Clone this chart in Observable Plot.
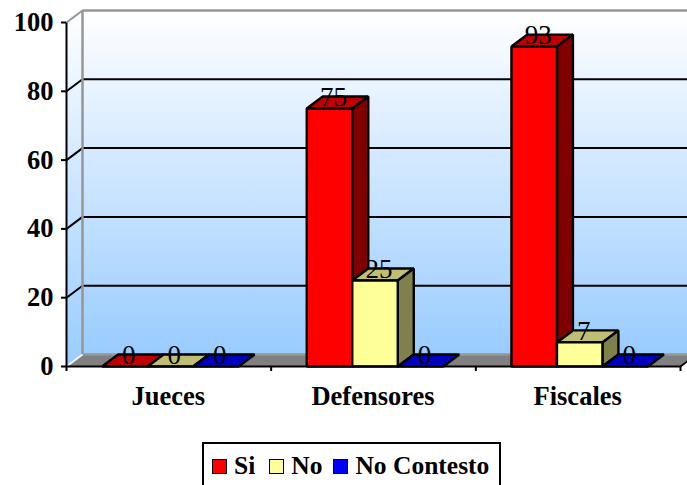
<!DOCTYPE html>
<html>
<head>
<meta charset="utf-8">
<script src="https://cdn.jsdelivr.net/npm/d3@7"></script>
<script src="https://cdn.jsdelivr.net/npm/@observablehq/plot@0.6"></script>
<style>
  html, body { margin: 0; padding: 0; background: #fff; overflow: hidden; }
  #page { position: relative; width: 687px; height: 485px; overflow: hidden; font-family: "Liberation Serif", serif; }
  #page > svg { position: absolute; left: 0; top: 0; }
  #legend { position: absolute; left: 202px; top: 442px; width: 295px; height: 50px; border: 2px solid #000; background: #fff;
            display: flex; align-items: flex-start; padding-top: 8px; font-weight: bold; font-size: 25.5px; color: #000; }
  #legend span.item { display: flex; align-items: center; height: 28px; white-space: nowrap; }
  #legend i { display: inline-block; width: 13px; height: 13px; border: 1.5px solid #000; margin: 0 7px 0 0; }
</style>
</head>
<body>
<div id="page"></div>
<script>
// Survey answers per group of respondents
const groups = ["Jueces", "Defensores", "Fiscales"];
const seriesNames = ["Si", "No", "No Contesto"];
const si = [0, 75, 93];
const no = [0, 25, 7];
const noContesto = [0, 0, 0];
const frontColors = ["#ff0000", "#ffff99", "#0000ff"];
const topColors = ["#bf0000", "#bfbf73", "#0000bf"];
const sideColors = ["#800000", "#80804d", "#000080"];
const yTicks = [0, 20, 40, 60, 80, 100];

// Oblique projection: the back of the chart box sits up and to the right of the front,
// expressed in data units of the two scales.
const depthX = 16 / 204.67;
const depthY = 12 / 3.44;
const xMax = 3;
const barWidth = 45.5 / 204.67;
const barStart = 35.6 / 204.67;
const values = [si, no, noContesto];

const polys = [];
const addPoly = (id, fill, pts) => pts.forEach(([x, y]) => polys.push({id, fill, x, y}));
const box = (x0, x1, v, prefix, s) => {
  addPoly(prefix + "top", topColors[s], [[x0, v], [x1, v], [x1 + depthX, v + depthY], [x0 + depthX, v + depthY]]);
  if (v > 0) {
    addPoly(prefix + "side", sideColors[s], [[x1, 0], [x1 + depthX, depthY], [x1 + depthX, v + depthY], [x1, v]]);
    addPoly(prefix + "front", frontColors[s], [[x0, 0], [x1, 0], [x1, v], [x0, v]]);
  }
};
const labels = [];
groups.forEach((g, i) => {
  seriesNames.forEach((name, s) => {
    const x0 = i + barStart + s * barWidth;
    const v = values[s][i];
    box(x0, x0 + barWidth, v, `${g}-${name}-`, s);
    labels.push({x: x0 + barWidth / 2 + depthX / 4, y: v + depthY / 2, text: String(v)});
  });
});

const wall = [[depthX, depthY], [xMax + depthX, depthY], [xMax + depthX, 100 + depthY], [depthX, 100 + depthY]];
const leftWall = [[0, 0], [depthX, depthY], [depthX, 100 + depthY], [0, 100]];
const floor = [[0, 0], [xMax, 0], [xMax + depthX, depthY], [depthX, depthY]];

const closedShape = (pts, options) =>
  Plot.line(pts, {x: d => d[0], y: d => d[1], curve: "linear-closed", ...options});

const chart = Plot.plot({
  width: 687,
  height: 442,
  marginLeft: 66,
  marginRight: 7,
  marginTop: 22,
  marginBottom: 76,
  style: {background: "transparent", overflow: "visible"},
  x: {type: "linear", domain: [0, 3], axis: null},
  y: {type: "linear", domain: [0, 100], axis: null},
  marks: [
    () => {
      const defs = d3.create("svg:defs");
      const g = defs.append("linearGradient").attr("id", "wallFade").attr("x1", 0).attr("x2", 0).attr("y1", 0).attr("y2", 1);
      g.append("stop").attr("offset", "0%").attr("stop-color", "#ffffff");
      g.append("stop").attr("offset", "100%").attr("stop-color", "#99ccff");
      return defs.node();
    },
    closedShape(wall, {fill: "url(#wallFade)", stroke: "none"}),
    closedShape(leftWall, {fill: "url(#wallFade)", stroke: "none"}),
    closedShape(floor, {fill: "#808080", stroke: "none"}),
    // gridlines run along the left wall, then across the back wall
    Plot.link(yTicks.slice(1, -1), {x1: depthX, x2: xMax + depthX, y1: d => d + depthY, y2: d => d + depthY, stroke: "#000", strokeWidth: 2}),
    Plot.link(yTicks.slice(1), {x1: 0, x2: depthX, y1: d => d, y2: d => d + depthY, stroke: d => d === 100 ? "#969696" : "#000", strokeWidth: 2}),
    // frame of the box
    Plot.link([0], {x1: depthX, x2: depthX, y1: depthY, y2: 100 + depthY, stroke: "#969696", strokeWidth: 2.5}),
    Plot.link([0], {x1: depthX, x2: xMax + depthX, y1: 100 + depthY, y2: 100 + depthY, stroke: "#969696", strokeWidth: 2.5}),
    Plot.link([0], {x1: depthX, x2: xMax + depthX, y1: depthY, y2: depthY, stroke: "#969696", strokeWidth: 2.5}),
    Plot.link([0], {x1: 0, x2: depthX, y1: 0, y2: depthY, stroke: "#f0f6fc", strokeWidth: 2}),
    Plot.link([0], {x1: xMax, x2: xMax + depthX, y1: 0, y2: depthY, stroke: "#000", strokeWidth: 2}),
    // bars
    Plot.line(polys, {x: "x", y: "y", z: "id", fill: "fill", stroke: "#000", strokeWidth: 2.4, curve: "linear-closed", strokeLinejoin: "miter"}),
    // axes
    Plot.link([0], {x1: 0, x2: xMax, y1: 0, y2: 0, stroke: "#000", strokeWidth: 2}),
    Plot.link([0], {x1: 0, x2: 0, y1: 0, y2: 100, stroke: "#000", strokeWidth: 2}),
    Plot.axisY({ticks: yTicks, tickSize: 5, tickPadding: 8, strokeWidth: 2, stroke: "#000", strokeOpacity: 1,
      fontFamily: "Liberation Serif", fontWeight: "bold", fontSize: 26.5, fill: "#000", label: null, tickFormat: d => String(d)}),
    Plot.axisX({ticks: [0, 1, 2, 3], tickSize: 5, strokeWidth: 2, stroke: "#000", strokeOpacity: 1, tickFormat: () => "", label: null}),
    Plot.text(groups, {x: (d, i) => i + 0.5, y: 0, text: d => d, dy: 30, dx: -0.5, fontFamily: "Liberation Serif", fontWeight: "bold", fontSize: 26.5, fill: "#000"}),
    // value labels
    Plot.text(labels, {x: "x", y: "y", text: "text", dy: -5, fontFamily: "Liberation Serif", fontSize: 27, fill: "#000"})
  ]
});
document.getElementById("page").append(chart);

const legend = d3.select("#page").append("div").attr("id", "legend");
const legendGaps = [8, 14, 11];
seriesNames.forEach((name, s) => {
  const item = legend.append("span").attr("class", "item").style("margin-left", legendGaps[s] + "px");
  item.append("i").style("background", frontColors[s]);
  item.append("span").text(name);
});
</script>
</body>
</html>
